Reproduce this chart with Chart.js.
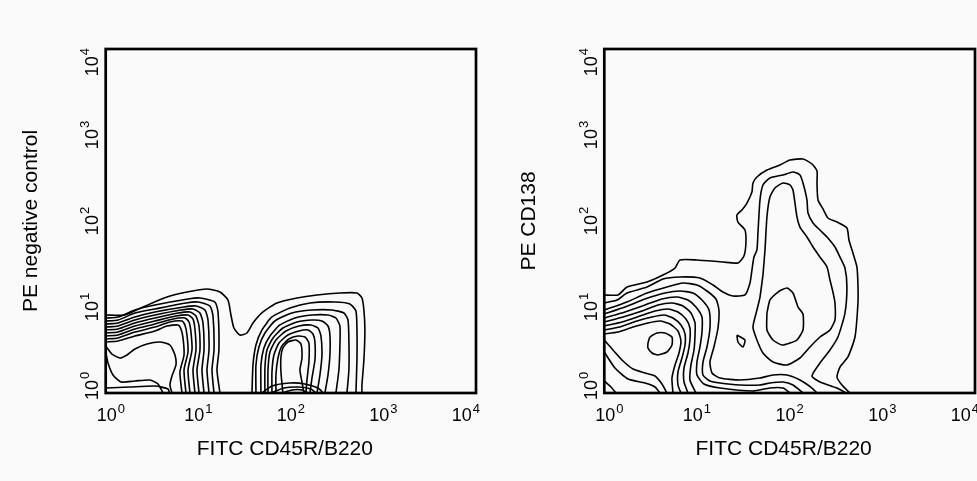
<!DOCTYPE html>
<html>
<head>
<meta charset="utf-8">
<script src="https://cdn.jsdelivr.net/npm/chart.js@4.4.1/dist/chart.umd.min.js"></script>
<style>
  html, body { margin: 0; padding: 0; background: #fafafa; }
  #wrap { position: relative; width: 977px; height: 481px; overflow: hidden; }
  canvas { position: absolute; top: 0; }
  #left { left: 0; }
  #right { left: 490px; }
</style>
</head>
<body>
<div id="wrap">
  <canvas id="left" width="490" height="481"></canvas>
  <canvas id="right" width="487" height="481"></canvas>
</div>
<script>
// both axes are in log10 decades: 0 = 10^0 ... 4 = 10^4
const decades = [0, 1, 2, 3, 4];
const xTitle = 'FITC CD45R/B220';
const leftYTitle = 'PE negative control';
const rightYTitle = 'PE CD138';

// ---- left panel (PE negative control), contour lines as [x, y] ----
const negOuter = [[0,0.907],[0.208,0.907],[0.403,1.000],[0.662,1.116],[0.878,1.174],[1.094,1.209],[1.234,1.174],[1.321,1.081],[1.353,0.907],[1.385,0.756],[1.450,0.674],[1.526,0.698],[1.591,0.814],[1.699,0.942],[1.850,1.047],[2.066,1.105],[2.282,1.140],[2.530,1.163],[2.714,1.163],[2.768,1.105],[2.789,0.965],[2.800,0.733],[2.789,0.384],[2.768,0.093],[2.768,0]];
const negLow1 = [[0,0.872],[0.133,0.884],[0.316,0.965],[0.532,1.023],[0.889,1.093],[1.018,1.105],[1.180,1.058],[1.213,0.942],[1.223,0.500],[1.202,0.267],[1.234,0]];
const negLow2 = [[0,0.837],[0.133,0.849],[0.316,0.930],[0.532,0.977],[0.867,1.047],[0.997,1.058],[1.126,1.012],[1.159,0.895],[1.170,0.500],[1.148,0.267],[1.170,0]];
const negLow3 = [[0,0.802],[0.133,0.814],[0.316,0.884],[0.532,0.942],[0.846,1.000],[0.975,1.012],[1.072,0.965],[1.105,0.849],[1.116,0.500],[1.094,0.267],[1.116,0]];
const negLow4 = [[0,0.767],[0.133,0.779],[0.316,0.849],[0.532,0.907],[0.813,0.965],[0.943,0.977],[1.018,0.930],[1.051,0.814],[1.062,0.500],[1.040,0.267],[1.062,0]];
const negLow5 = [[0,0.733],[0.133,0.744],[0.316,0.814],[0.532,0.872],[0.781,0.930],[0.910,0.942],[0.975,0.895],[1.008,0.779],[1.018,0.500],[0.986,0.267],[1.008,0]];
const negLow6 = [[0,0.698],[0.133,0.709],[0.316,0.779],[0.532,0.837],[0.759,0.895],[0.889,0.907],[0.943,0.860],[0.964,0.744],[0.975,0.500],[0.943,0.267],[0.964,0]];
const negLow7 = [[0,0.663],[0.133,0.674],[0.316,0.744],[0.532,0.802],[0.727,0.860],[0.856,0.872],[0.900,0.826],[0.921,0.709],[0.932,0.500],[0.889,0.267],[0.910,0]];
const negLow8 = [[0,0.628],[0.133,0.640],[0.316,0.709],[0.532,0.767],[0.694,0.826],[0.824,0.837],[0.856,0.791],[0.878,0.674],[0.889,0.477],[0.846,0.267],[0.867,0]];
const negLow9 = [[0,0.593],[0.133,0.605],[0.316,0.663],[0.532,0.721],[0.662,0.779],[0.781,0.791],[0.813,0.744],[0.835,0.640],[0.846,0.442],[0.802,0.244],[0.824,0]];
const negHole = [[0,0.547],[0.068,0.453],[0.154,0.407],[0.230,0.442],[0.316,0.512],[0.446,0.570],[0.586,0.593],[0.694,0.558],[0.748,0.442],[0.759,0.326],[0.716,0.198],[0.694,0.093],[0.716,0]];
const negBase1 = [[0,0.477],[0.025,0.349],[0.079,0.209],[0.165,0.128],[0.316,0.140],[0.478,0.151],[0.565,0.105],[0.619,0]];
const negBase2 = [[0,0.058],[0.262,0.070],[0.532,0.081],[0.673,0.047],[0.690,0]];
const negB1 = [[1.580,0],[1.591,0.326],[1.623,0.558],[1.688,0.733],[1.796,0.884],[1.990,0.988],[2.206,1.047],[2.476,1.058],[2.638,1.035],[2.703,0.953],[2.714,0.733],[2.714,0.384],[2.703,0]];
const negB2 = [[1.623,0],[1.623,0.326],[1.655,0.535],[1.720,0.698],[1.828,0.837],[2.012,0.930],[2.228,0.965],[2.444,0.965],[2.573,0.930],[2.617,0.849],[2.627,0.616],[2.627,0.267],[2.606,0]];
const negB3 = [[1.677,0],[1.677,0.326],[1.709,0.523],[1.774,0.663],[1.882,0.791],[2.044,0.872],[2.228,0.907],[2.401,0.907],[2.487,0.872],[2.530,0.779],[2.530,0.558],[2.519,0.267],[2.487,0]];
const negB4 = [[1.720,0],[1.720,0.291],[1.742,0.500],[1.807,0.640],[1.914,0.756],[2.066,0.826],[2.228,0.849],[2.336,0.837],[2.401,0.779],[2.422,0.674],[2.422,0.442],[2.401,0.209],[2.368,0]];
const negB5 = [[1.753,0],[1.753,0.267],[1.774,0.477],[1.839,0.616],[1.947,0.721],[2.087,0.779],[2.217,0.791],[2.293,0.756],[2.325,0.663],[2.336,0.442],[2.314,0.209],[2.282,0]];
const negB6 = [[1.796,0],[1.796,0.244],[1.817,0.442],[1.872,0.581],[1.968,0.674],[2.087,0.721],[2.185,0.733],[2.239,0.686],[2.260,0.593],[2.260,0.384],[2.228,0.174],[2.206,0]];
const negB7 = [[1.839,0],[1.839,0.209],[1.861,0.407],[1.904,0.547],[1.979,0.628],[2.077,0.663],[2.152,0.651],[2.195,0.581],[2.195,0.360],[2.174,0.151],[2.163,0]];
const negB8 = [[1.914,0],[1.893,0.244],[1.893,0.419],[1.914,0.523],[1.968,0.593],[2.055,0.616],[2.109,0.570],[2.120,0.407],[2.098,0.267],[2.120,0.128],[2.141,0]];
const negFoot1 = [[1.688,0],[1.796,0.081],[1.990,0.116],[2.152,0.105],[2.293,0.058],[2.350,0]];
const negFoot2 = [[1.785,0],[1.925,0.058],[2.077,0.070],[2.217,0.047],[2.270,0]];
const negFoot3 = [[1.904,0],[2.012,0.035],[2.120,0.035],[2.185,0]];

// ---- right panel (PE CD138) ----
const cdOuter = [[0,1.140],[0.148,1.140],[0.245,1.233],[0.461,1.291],[0.633,1.372],[0.763,1.453],[0.817,1.547],[1.000,1.547],[1.280,1.523],[1.442,1.512],[1.507,1.593],[1.528,1.744],[1.518,1.895],[1.442,1.988],[1.431,2.070],[1.485,2.128],[1.539,2.209],[1.593,2.337],[1.604,2.442],[1.647,2.512],[1.755,2.593],[1.895,2.651],[2.003,2.709],[2.144,2.721],[2.241,2.663],[2.295,2.581],[2.295,2.442],[2.306,2.244],[2.360,2.140],[2.413,2.035],[2.511,1.988],[2.618,1.919],[2.640,1.779],[2.683,1.628],[2.726,1.465],[2.737,1.256],[2.737,1.047],[2.705,0.651],[2.629,0.419],[2.543,0.302],[2.511,0.186],[2.564,0.093],[2.651,0]];
const cdSecond = [[0,1.047],[0.137,1.081],[0.245,1.163],[0.461,1.233],[0.633,1.326],[0.817,1.349],[1.032,1.337],[1.173,1.256],[1.280,1.174],[1.388,1.128],[1.518,1.140],[1.572,1.279],[1.593,1.430],[1.615,1.581],[1.647,1.663],[1.658,1.860],[1.680,2.244],[1.712,2.419],[1.787,2.500],[1.928,2.535],[2.036,2.570],[2.111,2.535],[2.144,2.442],[2.187,2.244],[2.198,2.093],[2.252,1.977],[2.327,1.895],[2.403,1.814],[2.489,1.698],[2.543,1.581],[2.597,1.453],[2.618,1.233],[2.597,0.930],[2.521,0.651],[2.435,0.500],[2.327,0.349],[2.241,0.198],[2.327,0.128],[2.511,0.058],[2.607,0]];
const cdPlasma = [[1.712,1.372],[1.734,1.663],[1.755,2.047],[1.787,2.279],[1.841,2.384],[1.928,2.442],[2.003,2.419],[2.036,2.360],[2.079,2.047],[2.111,1.930],[2.187,1.814],[2.252,1.698],[2.327,1.581],[2.403,1.465],[2.435,1.314],[2.467,1.174],[2.489,1.047],[2.489,0.849],[2.435,0.733],[2.327,0.651],[2.219,0.535],[2.111,0.407],[1.971,0.326],[1.820,0.360],[1.712,0.465],[1.647,0.616],[1.604,0.767],[1.647,0.965],[1.680,1.116],[1.712,1.372]];
const cdPlasmaCore = [[1.755,0.930],[1.787,1.081],[1.874,1.174],[1.971,1.221],[2.036,1.163],[2.090,1.000],[2.144,0.919],[2.144,0.733],[2.079,0.616],[2.003,0.581],[1.917,0.558],[1.820,0.616],[1.755,0.733],[1.755,0.930]];
const cdSpeck = [[1.431,0.674],[1.518,0.616],[1.496,0.535],[1.442,0.593],[1.431,0.674]];
const cdLow1 = [[0,0.965],[0.245,1.058],[0.461,1.163],[0.676,1.233],[0.849,1.279],[1.000,1.256],[1.108,1.186],[1.205,1.093],[1.237,0.965],[1.227,0.756],[1.183,0.535],[1.140,0.360],[1.162,0.233],[1.248,0.174],[1.464,0.151],[1.680,0.174],[1.820,0.209],[1.971,0.209],[2.111,0.151],[2.241,0.058],[2.295,0]];
const cdLow2 = [[0,0.919],[0.223,1.000],[0.439,1.093],[0.655,1.163],[0.817,1.186],[0.957,1.163],[1.054,1.081],[1.130,0.965],[1.140,0.756],[1.108,0.535],[1.065,0.360],[1.065,0.209],[1.140,0.140],[1.248,0.116],[1.464,0.093],[1.680,0.093],[1.787,0.116],[1.928,0.128],[2.036,0.093],[2.144,0]];
const cdLow3 = [[0,0.872],[0.223,0.942],[0.439,1.023],[0.622,1.093],[0.784,1.116],[0.903,1.081],[0.989,1.000],[1.054,0.884],[1.054,0.709],[1.032,0.535],[1.000,0.360],[1.000,0.209],[1.075,0.105],[1.248,0.058],[1.604,0.023],[1.787,0.058],[1.928,0.058],[2.003,0]];
const cdLow4 = [[0,0.826],[0.202,0.884],[0.407,0.953],[0.579,1.023],[0.730,1.047],[0.849,1.012],[0.935,0.930],[0.979,0.814],[0.979,0.674],[0.968,0.500],[0.935,0.326],[0.924,0.151],[0.989,0]];
const cdLow5 = [[0,0.779],[0.191,0.826],[0.385,0.895],[0.547,0.953],[0.687,0.977],[0.795,0.942],[0.881,0.860],[0.924,0.756],[0.924,0.616],[0.903,0.465],[0.860,0.291],[0.860,0.128],[0.903,0]];
const cdLow6 = [[0,0.733],[0.169,0.767],[0.353,0.837],[0.515,0.884],[0.644,0.907],[0.741,0.872],[0.827,0.791],[0.871,0.686],[0.871,0.558],[0.838,0.407],[0.795,0.244],[0.795,0.093],[0.827,0]];
const cdLow7 = [[0,0.686],[0.148,0.709],[0.310,0.767],[0.471,0.814],[0.601,0.837],[0.709,0.802],[0.795,0.721],[0.827,0.605],[0.806,0.465],[0.763,0.326],[0.730,0.174],[0.741,0]];
const cdLowCore = [[0.471,0.581],[0.493,0.651],[0.569,0.698],[0.655,0.698],[0.730,0.651],[0.730,0.558],[0.676,0.477],[0.579,0.442],[0.515,0.465],[0.471,0.523],[0.471,0.581]];
const cdBase1 = [[0,0.616],[0.094,0.500],[0.202,0.372],[0.310,0.279],[0.439,0.233],[0.547,0.198],[0.622,0.105],[0.676,0]];
const cdBase2 = [[0,0.477],[0.115,0.291],[0.256,0.163],[0.439,0.116],[0.547,0.070],[0.601,0]];
const cdBase3 = [[0,0.140],[0.072,0.070],[0.126,0]];

const leftContours = [negOuter, negLow1, negLow2, negLow3, negLow4, negLow5, negLow6, negLow7, negLow8, negLow9,
  negHole, negBase1, negBase2, negB1, negB2, negB3, negB4, negB5, negB6, negB7, negB8, negFoot1, negFoot2, negFoot3];
const rightContours = [cdOuter, cdSecond, cdPlasma, cdPlasmaCore, cdSpeck, cdLow1, cdLow2, cdLow3, cdLow4, cdLow5,
  cdLow6, cdLow7, cdLowCore, cdBase1, cdBase2, cdBase3];

const FONT = '"Liberation Sans", Arial, Helvetica, sans-serif';

// frame, 10^n tick labels and axis titles
const framePlugin = {
  id: 'frame',
  afterDraw(chart, args, opts) {
    const { ctx, chartArea: a } = chart;
    const xs = chart.scales.x, ys = chart.scales.y;
    ctx.save();
    ctx.strokeStyle = '#000';
    ctx.lineWidth = 2.7;
    ctx.strokeRect(a.left, a.top, a.right - a.left, a.bottom - a.top);

    ctx.fillStyle = '#000';
    ctx.textBaseline = 'alphabetic';
    ctx.textAlign = 'left';
    decades.forEach(d => {
      const exp = String(d);
      ctx.font = '18px ' + FONT;
      const wb = ctx.measureText('10').width;
      ctx.font = '13px ' + FONT;
      const we = ctx.measureText(exp).width;
      const w = wb + we + 1;

      let cx = xs.getPixelForValue(d);
      cx = Math.min(Math.max(cx, a.left + w / 2 - 9), a.right - w / 2 + 4);
      const x0 = cx - w / 2;
      ctx.font = '18px ' + FONT;
      ctx.fillText('10', x0, a.bottom + 28);
      ctx.font = '13px ' + FONT;
      ctx.fillText(exp, x0 + wb + 1, a.bottom + 20);

      let cy = ys.getPixelForValue(d);
      cy = Math.min(Math.max(cy, a.top + w / 2 - 1), a.bottom - w / 2 + 7);
      ctx.save();
      ctx.translate(a.left - 7.5, cy + w / 2);
      ctx.rotate(-Math.PI / 2);
      ctx.font = '18px ' + FONT;
      ctx.fillText('10', 0, 0);
      ctx.font = '13px ' + FONT;
      ctx.fillText(exp, wb + 1, -9);
      ctx.restore();
    });

    ctx.font = '21px ' + FONT;
    ctx.textAlign = 'center';
    ctx.fillText(opts.xTitle, (a.left + a.right) / 2 - 6, a.bottom + 62);
    ctx.save();
    ctx.translate(a.left - 69, (a.top + a.bottom) / 2);
    ctx.rotate(-Math.PI / 2);
    ctx.fillText(opts.yTitle, 0, 0);
    ctx.restore();
    ctx.restore();
  }
};

function makePanel(id, contours, yTitle, padding) {
  return new Chart(document.getElementById(id), {
    type: 'scatter',
    data: {
      datasets: contours.map(c => ({
        data: c.map(([x, y]) => ({ x, y })),
        showLine: true,
        borderColor: '#000',
        borderWidth: 1.6,
        pointRadius: 0,
        tension: 0.2,
        fill: false
      }))
    },
    options: {
      responsive: false,
      animation: false,
      events: [],
      layout: { padding },
      plugins: {
        legend: { display: false },
        tooltip: { enabled: false },
        frame: { xTitle, yTitle }
      },
      scales: {
        x: { type: 'linear', min: 0, max: 4, display: false },
        y: { type: 'linear', min: 0, max: 4, display: false }
      }
    },
    plugins: [framePlugin]
  });
}

makePanel('left', leftContours, leftYTitle, { left: 105.7, top: 49, right: 14, bottom: 88 });
makePanel('right', rightContours, rightYTitle, { left: 114.3, top: 49, right: 2, bottom: 88 });
</script>
</body>
</html>
